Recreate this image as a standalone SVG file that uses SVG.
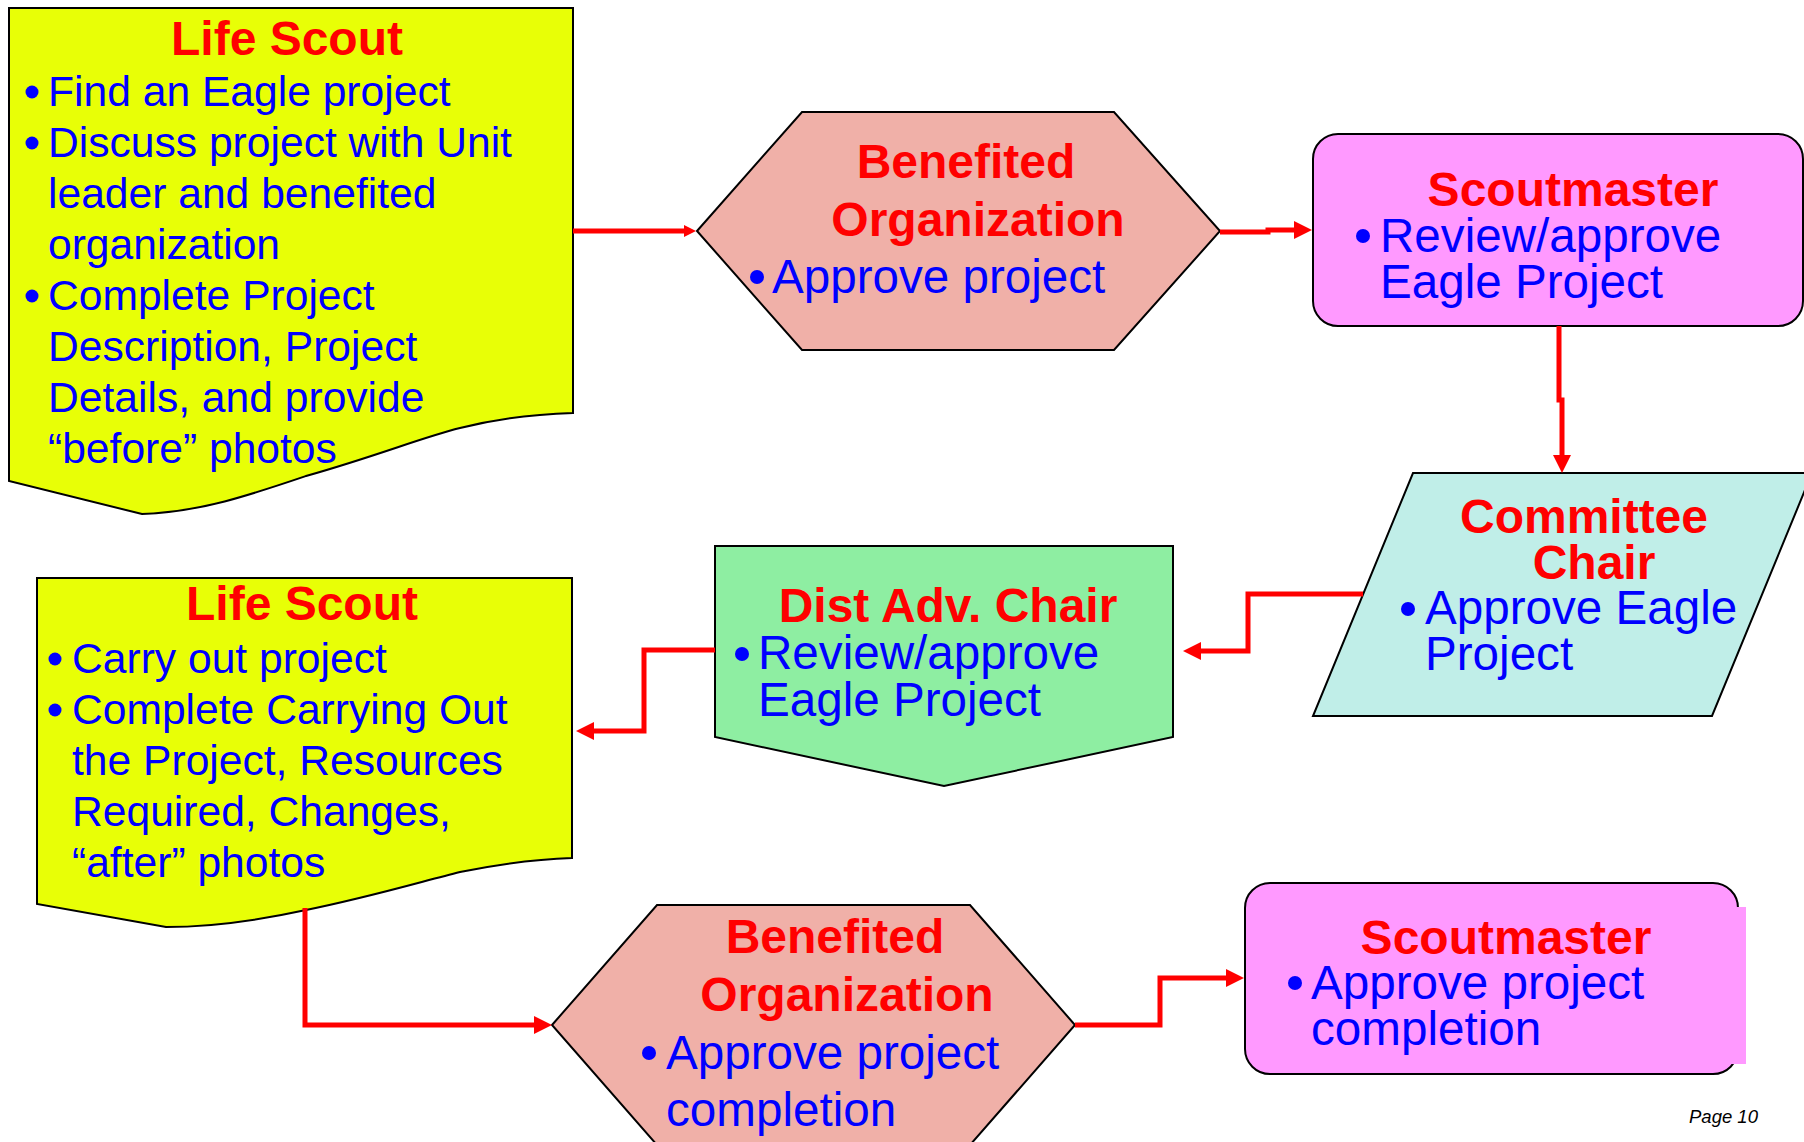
<svg xmlns="http://www.w3.org/2000/svg" width="1804" height="1142" viewBox="0 0 1804 1142">
<defs>
<marker id="arrow" viewBox="0 0 18 18" refX="6" refY="9" markerWidth="18" markerHeight="18" markerUnits="userSpaceOnUse" orient="auto">
<path d="M0,0 L18,9 L0,18 Z" fill="#FF0000"/>
</marker>
<marker id="arrowS" viewBox="0 0 12 12" refX="4" refY="6" markerWidth="12" markerHeight="12" markerUnits="userSpaceOnUse" orient="auto">
<path d="M0,0 L12,6 L0,12 Z" fill="#FF0000"/>
</marker>
<style>
.shape{stroke:#000;stroke-width:2;stroke-linejoin:miter}
.yellow{fill:#E8FF06}
.salmon{fill:#F0B0A8}
.pink{fill:#FF99FF}
.cyan{fill:#C0EEE8}
.green{fill:#8EEEA2}
.title{font-family:"Liberation Sans",Arial,sans-serif;font-weight:bold;font-size:48px;fill:#FF0000;text-anchor:middle}
.body{font-family:"Liberation Sans",Arial,sans-serif;font-size:47.6px;fill:#0000FF}
.body42{font-family:"Liberation Sans",Arial,sans-serif;font-size:42.6px;fill:#0000FF}
.bullet{fill:#0000FF}
.conn{fill:none;stroke:#FF0000;stroke-width:5;stroke-linejoin:miter}
.page{font-family:"Liberation Sans",Arial,sans-serif;font-style:italic;font-size:18.5px;fill:#000}
</style>
</defs>
<rect width="1804" height="1142" fill="#FFFFFF"/>

<g id="life-scout-1">
<path class="shape yellow" d="M9,8 H573 V413 C540,414 500,418 460,428 C420,438 380,455 306,476 C250,495 200,512 142,514 L9,481 Z"/>
<text class="title" x="287" y="55">Life Scout</text>
<circle class="bullet" cx="32" cy="92" r="6.5"/>
<text class="body42" x="48" y="106">Find an Eagle project</text>
<circle class="bullet" cx="32" cy="143" r="6.5"/>
<text class="body42" x="48" y="157">Discuss project with Unit</text>
<text class="body42" x="48" y="208">leader and benefited</text>
<text class="body42" x="48" y="259">organization</text>
<circle class="bullet" cx="32" cy="296" r="6.5"/>
<text class="body42" x="48" y="310">Complete Project</text>
<text class="body42" x="48" y="361">Description, Project</text>
<text class="body42" x="48" y="412">Details, and provide</text>
<text class="body42" x="48" y="463">“before” photos</text>
</g>

<g id="benefited-org-1">
<polygon class="shape salmon" points="697,231 802,112 1114,112 1220,231 1114,350 802,350"/>
<text class="title" x="966" y="178">Benefited</text>
<text class="title" x="978" y="236">Organization</text>
<circle class="bullet" cx="757" cy="277" r="7"/>
<text class="body" x="772" y="293">Approve project</text>
</g>

<g id="scoutmaster-1">
<rect class="shape pink" x="1313" y="134" width="490" height="192" rx="25" ry="25"/>
<text class="title" x="1573" y="206">Scoutmaster</text>
<circle class="bullet" cx="1363" cy="236" r="7"/>
<text class="body" x="1380" y="252">Review/approve</text>
<text class="body" x="1380" y="298">Eagle Project</text>
</g>

<g id="committee-chair">
<polygon class="shape cyan" points="1413,473 1812,473 1712,716 1313,716"/>
<text class="title" x="1584" y="533">Committee</text>
<text class="title" x="1594" y="579">Chair</text>
<circle class="bullet" cx="1408" cy="609" r="7"/>
<text class="body" x="1425" y="624">Approve Eagle</text>
<text class="body" x="1425" y="670">Project</text>
</g>

<g id="dist-adv-chair">
<polygon class="shape green" points="715,546 1173,546 1173,737 944,786 715,737"/>
<text class="title" x="948" y="622">Dist Adv. Chair</text>
<circle class="bullet" cx="742" cy="654" r="7"/>
<text class="body" x="758" y="669">Review/approve</text>
<text class="body" x="758" y="716">Eagle Project</text>
</g>

<g id="life-scout-2">
<path class="shape yellow" d="M37,578 H572 V858 C540,859 500,864 460,872 C420,882 370,897 306,910 C260,920 210,927 166,927 L37,904 Z"/>
<text class="title" x="302" y="620">Life Scout</text>
<circle class="bullet" cx="55" cy="659" r="6.5"/>
<text class="body42" x="72" y="673">Carry out project</text>
<circle class="bullet" cx="55" cy="710" r="6.5"/>
<text class="body42" x="72" y="724">Complete Carrying Out</text>
<text class="body42" x="72" y="775">the Project, Resources</text>
<text class="body42" x="72" y="826">Required, Changes,</text>
<text class="body42" x="72" y="877">“after” photos</text>
</g>

<g id="benefited-org-2">
<polygon class="shape salmon" points="552,1025 657,905 970,905 1075,1025 970,1145 657,1145"/>
<text class="title" x="835" y="953">Benefited</text>
<text class="title" x="847" y="1011">Organization</text>
<circle class="bullet" cx="649" cy="1053" r="7"/>
<text class="body" x="666" y="1069">Approve project</text>
<text class="body" x="666" y="1126">completion</text>
</g>

<g id="scoutmaster-2">
<rect class="shape pink" x="1245" y="883" width="493" height="191" rx="25" ry="25"/>
<rect class="pink" x="1722" y="907" width="24" height="157"/>
<text class="title" x="1506" y="954">Scoutmaster</text>
<circle class="bullet" cx="1295" cy="983" r="7"/>
<text class="body" x="1311" y="999">Approve project</text>
<text class="body" x="1311" y="1045">completion</text>
</g>

<g id="connectors">
<path class="conn" d="M573,231 H688" marker-end="url(#arrowS)"/>
<path class="conn" d="M1220,232 H1268 V230 H1300" marker-end="url(#arrow)"/>
<path class="conn" d="M1559,326 V400 H1562 V461" marker-end="url(#arrow)"/>
<path class="conn" d="M1363,594 H1248 V651 H1195" marker-end="url(#arrow)"/>
<path class="conn" d="M715,650 H644 V731 H588" marker-end="url(#arrow)"/>
<path class="conn" d="M305,908 V1025 H540" marker-end="url(#arrow)"/>
<path class="conn" d="M1075,1025 H1160 V978 H1232" marker-end="url(#arrow)"/>
</g>

<text class="page" x="1689" y="1123">Page 10</text>
</svg>
